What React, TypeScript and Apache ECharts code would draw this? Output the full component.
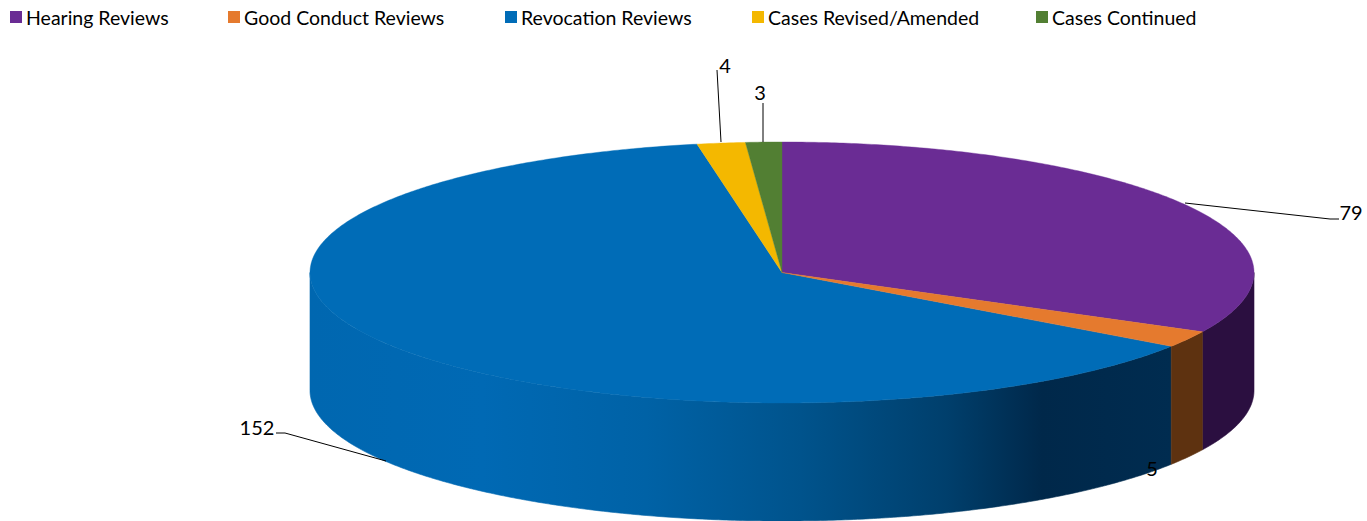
import React, { useEffect, useRef } from "react";
import * as echarts from "echarts";

const categories = ["Hearing Reviews", "Good Conduct Reviews", "Revocation Reviews", "Cases Revised/Amended", "Cases Continued"];
const values = [79, 5, 152, 4, 3];
const topColors = ["#6a2c94", "#e57a2e", "#006cb7", "#f4b800", "#527f33"];
const sideColors: any[] = ["#2b0f40", "#5e3210", null, "#f4b800", "#527f33"];
const legendLefts = [10, 228, 505, 752, 1036];
const seriesZ = [3, 4, 1, 5, 6];
const FONT = "Lato";

const CX = 782, CY = 272.5, RX = 472, RY = 130.5, DEPTH = 118;
const total = values.reduce((a, b) => a + b, 0);
const starts = values.map((_, i) => values.slice(0, i).reduce((a, b) => a + b, 0));

// label box centre + leader polyline for each slice
const labelLayout = [
  { x: 1351, y: 212, line: [[1185, 203], [1330, 219], [1339, 219]] },
  { x: 1152, y: 468, line: [] },
  { x: 257, y: 427, line: [[276, 433], [285, 433], [386, 461]] },
  { x: 725, y: 65, line: [[717, 70], [721, 142]] },
  { x: 760, y: 92, line: [[763, 103], [763, 142]] },
];

const pt = (deg: number, dy = 0) => {
  const a = (deg * Math.PI) / 180;
  return [CX + RX * Math.sin(a), CY - RY * Math.cos(a) + dy];
};

const arc = (a0: number, a1: number, dy = 0) => {
  const n = Math.max(2, Math.ceil((a1 - a0) * 2));
  const out: number[][] = [];
  for (let k = 0; k <= n; k++) out.push(pt(a0 + ((a1 - a0) * k) / n, dy));
  return out;
};

const blueSide = new echarts.graphic.LinearGradient(0, 0, 1, 0, [
  { offset: 0, color: "#0067b0" },
  { offset: 0.2, color: "#0069b4" },
  { offset: 0.39, color: "#0062a6" },
  { offset: 0.57, color: "#00538c" },
  { offset: 0.74, color: "#003f6c" },
  { offset: 0.85, color: "#00284a" },
  { offset: 1, color: "#002c50" },
]);

const renderSlice = (i: number) => (_p: any, api: any) => {
  const a0 = (starts[i] / total) * 360;
  const a1 = ((starts[i] + api.value(0)) / total) * 360;
  const children: any[] = [];
  const s0 = Math.max(a0, 90);
  const s1 = Math.min(a1, 270);
  if (s1 > s0) {
    const pts = [...arc(s0, s1), ...arc(s0, s1, DEPTH).reverse()];
    const fill = sideColors[i] || blueSide;
    children.push({ type: "polygon", shape: { points: pts }, style: { fill, stroke: fill, lineWidth: 0.6 } });
  }
  children.push({
    type: "polygon",
    shape: { points: [[CX, CY], ...arc(a0, a1)] },
    style: { fill: topColors[i], stroke: topColors[i], lineWidth: 0.4 },
  });
  const l = labelLayout[i];
  if (l.line.length) {
    children.push({ type: "polyline", shape: { points: l.line }, style: { stroke: "#000", lineWidth: 1, fill: "none" } });
  }
  children.push({
    type: "text",
    style: { text: String(values[i]), x: l.x, y: l.y, align: "center", verticalAlign: "middle", fill: "#000", font: `20px ${FONT}` },
  });
  return { type: "group", children };
};

export default function App() {
  const ref = useRef<HTMLDivElement>(null);
  useEffect(() => {
    document.body.style.margin = "0";
    const chart = echarts.init(ref.current!, undefined, { renderer: "svg" });
    chart.setOption({
      animation: false,
      backgroundColor: "#fff",
      legend: categories.map((name, i) => ({
        data: [name],
        left: legendLefts[i],
        top: 7,
        padding: 0,
        icon: "rect",
        itemWidth: 12,
        itemHeight: 12,
        itemGap: 0,
        selectedMode: false,
        textStyle: { fontFamily: FONT, fontSize: 19.5, color: "#000", padding: [0, 0, 0, -1] },
      })),
      series: categories.map((name, i) => ({
        type: "custom",
        name,
        coordinateSystem: "none",
        itemStyle: { color: topColors[i] },
        data: [[values[i]]],
        renderItem: renderSlice(i),
        silent: true,
        z: seriesZ[i],
      })),
    });
    return () => chart.dispose();
  }, []);
  return <div ref={ref} style={{ width: 1367, height: 521 }} />;
}
